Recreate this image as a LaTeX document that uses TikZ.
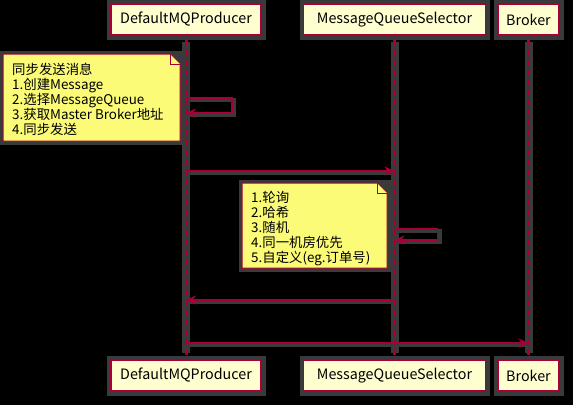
\documentclass[tikz,border=0pt]{standalone}
\usepackage{fontspec}
\setmainfont{Noto Sans CJK SC}
\usetikzlibrary{backgrounds,arrows.meta}
\definecolor{umlred}{HTML}{A80036}
\definecolor{umlbox}{HTML}{FEFECE}
\definecolor{umlnote}{HTML}{FBFB77}
\definecolor{umlshade}{HTML}{3A3A3A}
\tikzset{
  head/.style={draw=umlred,fill=umlbox,line width=1.2pt,minimum height=31pt,inner sep=0pt,font=\fontsize{14.3}{16}\selectfont},
  life/.style={draw=umlred,line width=3pt,dash pattern=on 6pt off 4pt},
  lifeshade/.style={draw=umlshade,line width=8pt},
  msg/.style={-{Stealth[length=10pt,width=9pt]},umlred,line width=1.4pt},
  msgshade/.style={umlshade,line width=4pt},
  notetext/.style={align=left,anchor=north west,inner sep=0pt,font=\fontsize{13.4}{15}\selectfont},
  notebox/.style={draw=umlred,fill=umlnote,line width=1pt},
}
\begin{document}
\begin{tikzpicture}[x=1pt,y=-1pt]
  \useasboundingbox (0,0) rectangle (573,405);
  % 参加者
  \node[head,minimum width=150pt] (prod) at (186,19.5) {DefaultMQProducer};
  \node[head,minimum width=182pt] (sel) at (394.5,19.5) {MessageQueueSelector};
  \node[head,minimum width=61pt] (brk) at (528.5,19.5) {Broker};
  \node[head,minimum width=150pt] (prodB) at (186,375.5) {DefaultMQProducer};
  \node[head,minimum width=182pt] (selB) at (394.5,375.5) {MessageQueueSelector};
  \node[head,minimum width=61pt] (brkB) at (528.5,375.5) {Broker};
  % 背景と影
  \begin{scope}[on background layer]
    \fill[black] (0,0) rectangle (573,405);
    \foreach \n in {prod,sel,brk,prodB,selB,brkB}
      \fill[umlshade] ([shift={(-3,-3)}]\n.north west) rectangle ([shift={(4,4)}]\n.south east);
    \foreach \n/\m in {prod/prodB,sel/selB,brk/brkB}
      \draw[lifeshade] ([yshift=-6pt]\n.south) -- ([yshift=6pt]\m.north);
    \fill[umlshade] (0,51) rectangle (184,145);
    \fill[umlshade] (239,180) rectangle (391,272);
    \draw[msgshade] (189,100) -- (234,100) -- (234,115) -- (189,115);
    \draw[msgshade] (189,173) -- (396,173);
    \draw[msgshade] (398,231) -- (440,231) -- (440,242) -- (398,242);
    \draw[msgshade] (189,302) -- (396,302);
    \draw[msgshade] (189,345) -- (531,345);
  \end{scope}
  % ライフライン
  \foreach \n/\m in {prod/prodB,sel/selB,brk/brkB}
    \draw[life] ([yshift=-3pt]\n.south) -- ([yshift=3pt]\m.north);
  % 注釈1
  \node[notetext] (note1) at (12,63) {同步发送消息\\1.创建Message\\2.选择MessageQueue\\3.获取Master Broker地址\\4.同步发送};
  \begin{scope}[on background layer]
    \draw[notebox] (3,54) -- (170,54) -- (180,64) -- (180,141) -- (3,141) -- cycle;
    \draw[notebox] (170,54) -- (170,64) -- (180,64);
  \end{scope}
  % 注釈2
  \node[notetext] (note2) at (251,191) {1.轮询\\2.哈希\\3.随机\\4.同一机房优先\\5.自定义(eg.订单号)};
  \begin{scope}[on background layer]
    \draw[notebox] (242,183) -- (377,183) -- (387,193) -- (387,268) -- (242,268) -- cycle;
    \draw[notebox] (377,183) -- (377,193) -- (387,193);
  \end{scope}
  % メッセージ
  \coordinate (p1) at (186,98);
  \coordinate (p1b) at (186,113);
  \coordinate (p2) at (186,171);
  \coordinate (s2) at (394.5,171);
  \coordinate (s3) at (394.5,229);
  \coordinate (s3b) at (394.5,240);
  \coordinate (s4) at (394.5,300);
  \coordinate (p4) at (186,300);
  \coordinate (p5) at (186,343);
  \coordinate (b5) at (528.5,343);
  \draw[msg] (p1) -- ++(46,0) |- (p1b); %自己呼び出し
  \draw[msg] (p2) -- (s2);
  \draw[msg] (s3) -- ++(43,0) |- (s3b); %自己呼び出し
  \draw[msg] (s4) -- (p4);
  \draw[msg] (p5) -- (b5);
\end{tikzpicture}
\end{document}
